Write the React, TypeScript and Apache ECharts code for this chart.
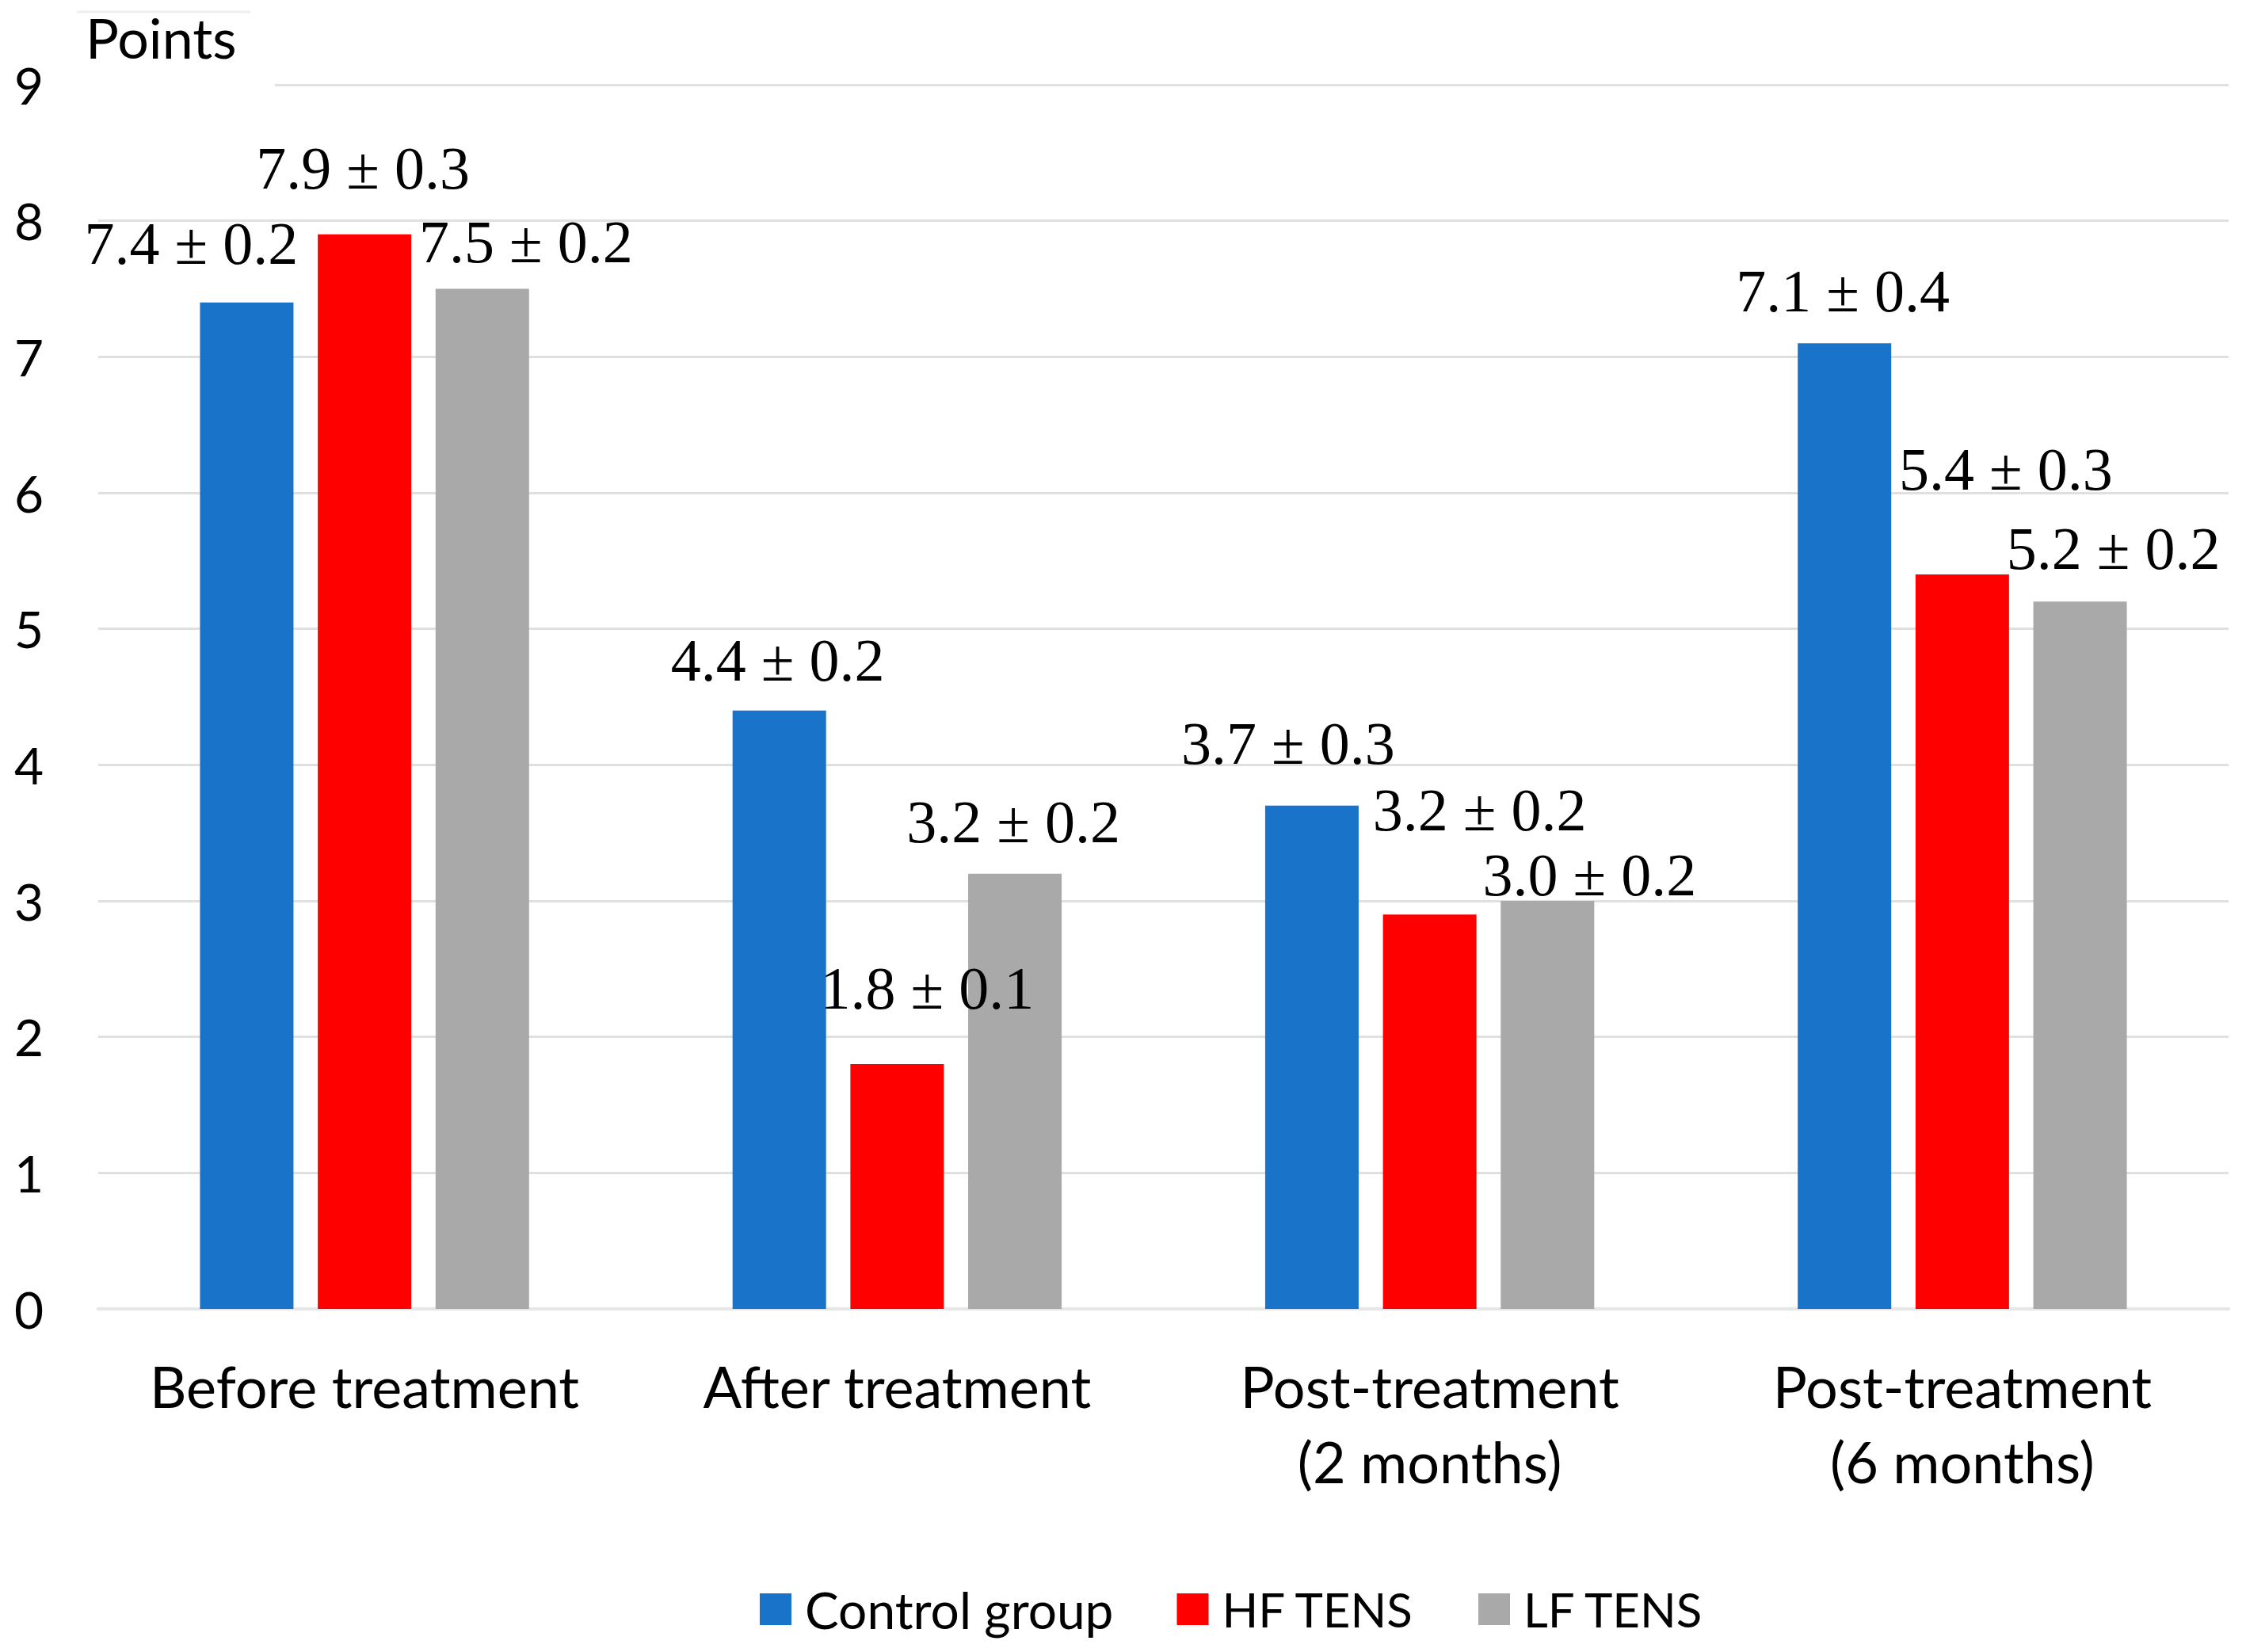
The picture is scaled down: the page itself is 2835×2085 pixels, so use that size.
import React, { useEffect, useRef } from "react";
import * as echarts from "echarts";

const CATEGORIES = [
  "Before treatment",
  "After treatment",
  "Post-treatment\n(2 months)",
  "Post-treatment\n(6 months)",
];
const SERIES_NAMES = ["Control group", "HF TENS", "LF TENS"];
const CONTROL = [7.4, 4.4, 3.7, 7.1];
const HF = [7.9, 1.8, 2.9, 5.4];
const LF = [7.5, 3.2, 3.0, 5.2];
const CONTROL_LABELS = ["7.4 ± 0.2", "4.4 ± 0.2", "3.7 ± 0.3", "7.1 ± 0.4"];
const HF_LABELS = ["7.9 ± 0.3", "1.8 ± 0.1", "3.2 ± 0.2", "5.4 ± 0.3"];
const LF_LABELS = ["7.5 ± 0.2", "3.2 ± 0.2", "3.0 ± 0.2", "5.2 ± 0.2"];
const Y_MIN = 0;
const Y_MAX = 9;
const Y_STEP = 1;
const Y_NAME = "Points";

// layout: per-label offsets (px) of the manually placed data labels
const CONTROL_OFFSETS = [[-70, -37], [-2, -26], [-30, -41], [-2, -28]];
const HF_OFFSETS = [[-2, -46], [38, -58], [63, -94], [55, -95]];
const LF_OFFSETS = [[55, -22], [-2, -28], [53, 5], [42, -29]];
// layout: legend text sizes per item
const LEGEND_FONT_SIZES = [64, 60, 60];

const COLORS = ["#1873C9", "#FF0000", "#A9A9A9"];

function makeSeries(name: string, values: number[], labels: string[], offsets: number[][], color: string) {
  return {
    name,
    type: "bar",
    barWidth: 118,
    barGap: "26%",
    itemStyle: { color },
    data: values.map((v, i) => ({
      value: v,
      label: { offset: offsets[i] },
    })),
    label: {
      show: true,
      position: "top",
      distance: 0,
      formatter: (p: any) => labels[p.dataIndex],
      fontFamily: "Liberation Serif",
      fontSize: 76,
      lineHeight: 76,
      color: "#000",
    },
  };
}

export default function App() {
  const ref = useRef<HTMLDivElement>(null);
  useEffect(() => {
    if (!ref.current) return;
    const chart = echarts.init(ref.current, null, { renderer: "svg" });
    chart.setOption({
      animation: false,
      backgroundColor: "#fff",
      textStyle: { fontFamily: "Lato" },
      grid: { left: 124, right: 22, top: 107, bottom: 433, containLabel: false },
      legend: {
        left: 954,
        top: 1994,
        itemWidth: 40,
        itemHeight: 40,
        itemGap: 80,
        icon: "rect",
        data: SERIES_NAMES.map((n, i) => ({
          name: n,
          textStyle: { fontSize: LEGEND_FONT_SIZES[i] },
        })),
        textStyle: {
          fontFamily: "Lato",
          fontSize: 64,
          lineHeight: 64,
          color: "#000",
          padding: [0, 0, 0, 12],
        },
      },
      xAxis: {
        type: "category",
        data: CATEGORIES,
        axisTick: { show: false },
        axisLine: { show: true, lineStyle: { color: "#E6E6E6", width: 4 } },
        axisLabel: {
          fontFamily: "Lato",
          fontSize: 72,
          lineHeight: 95,
          margin: 49,
          color: "#000",
          interval: 0,
        },
      },
      yAxis: {
        type: "value",
        min: Y_MIN,
        max: Y_MAX,
        interval: Y_STEP,
        axisLine: { show: false },
        axisTick: { show: false },
        splitLine: { show: true, lineStyle: { color: "#E0E0E0", width: 3 } },
        axisLabel: {
          fontFamily: "Lato",
          fontSize: 64,
          margin: 69,
          color: "#000",
          padding: [0, 0, 6, 0],
        },
      },
      graphic: [
        {
          type: "rect",
          z: 100,
          shape: { x: 97, y: 15, width: 250, height: 100 },
          style: { fill: "#fff" },
        },
        {
          type: "line",
          z: 101,
          shape: { x1: 97, y1: 15, x2: 316, y2: 15 },
          style: { stroke: "#EEEEEE", lineWidth: 3 },
        },
        {
          type: "text",
          z: 102,
          x: 108,
          y: 47,
          style: {
            text: Y_NAME,
            fontFamily: "Lato",
            fontSize: 70,
            fill: "#000",
            verticalAlign: "middle",
            align: "left",
          },
        },
      ],
      series: [
        makeSeries(SERIES_NAMES[0], CONTROL, CONTROL_LABELS, CONTROL_OFFSETS, COLORS[0]),
        makeSeries(SERIES_NAMES[1], HF, HF_LABELS, HF_OFFSETS, COLORS[1]),
        makeSeries(SERIES_NAMES[2], LF, LF_LABELS, LF_OFFSETS, COLORS[2]),
      ],
    });
    return () => chart.dispose();
  }, []);
  return (
    <div
      ref={ref}
      style={{ position: "absolute", left: 0, top: 0, width: 2835, height: 2085, background: "#fff" }}
    />
  );
}
